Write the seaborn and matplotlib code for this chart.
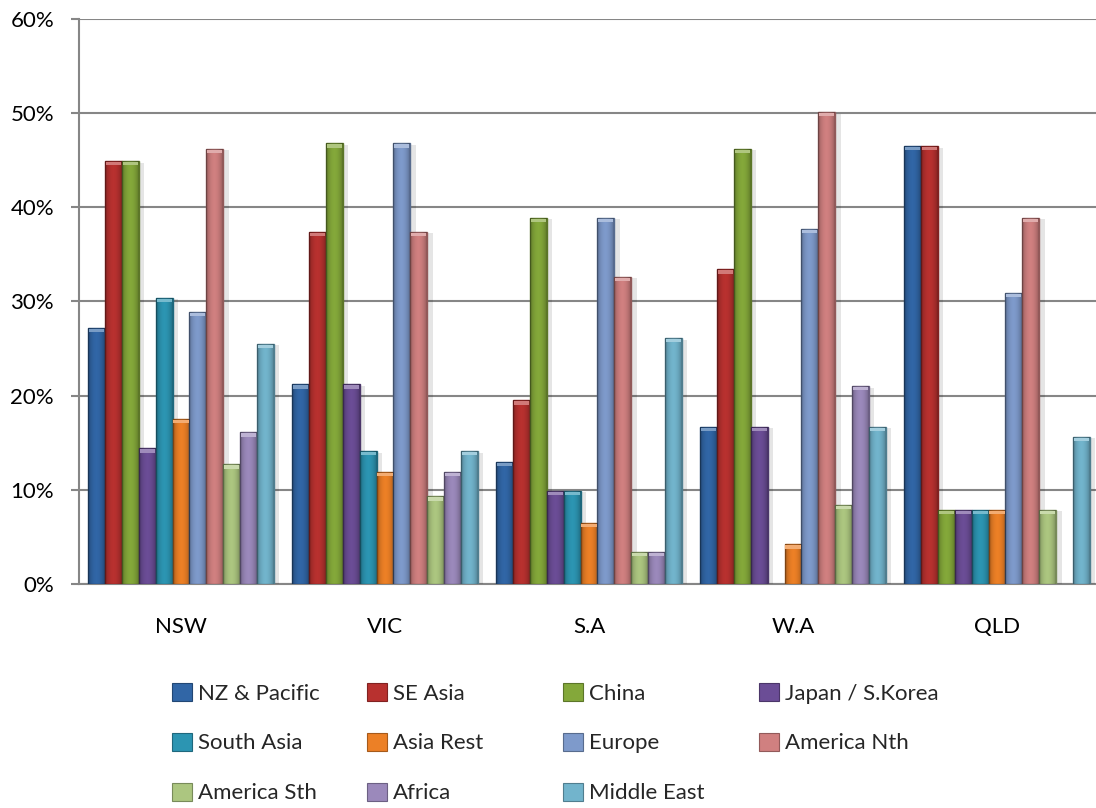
import matplotlib
matplotlib.use("Agg")
import matplotlib.pyplot as plt
import matplotlib.patheffects as pe
from matplotlib.patches import Patch
from matplotlib.ticker import FixedLocator, PercentFormatter
import numpy as np
import pandas as pd
import seaborn as sns

states = ["NSW", "VIC", "S.A", "W.A", "QLD"]
regions = ["NZ & Pacific", "SE Asia", "China", "Japan / S.Korea", "South Asia",
           "Asia Rest", "Europe", "America Nth", "America Sth", "Africa", "Middle East"]

# share per origin region (%), one list per region, ordered as states
nz_pacific = [27.2, 21.2, 13.0, 16.7, 46.5]
se_asia = [44.9, 37.4, 19.5, 33.4, 46.5]
china = [44.9, 46.8, 38.9, 46.2, 7.9]
japan_korea = [14.4, 21.2, 9.9, 16.7, 7.9]
south_asia = [30.4, 14.1, 9.9, 0.0, 7.9]
asia_rest = [17.5, 11.9, 6.5, 4.2, 7.9]
europe = [28.9, 46.8, 38.9, 37.7, 30.9]
america_nth = [46.2, 37.4, 32.6, 50.1, 38.9]
america_sth = [12.7, 9.3, 3.4, 8.4, 7.9]
africa = [16.1, 11.9, 3.4, 21.0, 0.0]
middle_east = [25.5, 14.1, 26.1, 16.7, 15.6]

series = [nz_pacific, se_asia, china, japan_korea, south_asia, asia_rest,
          europe, america_nth, america_sth, africa, middle_east]

colors = ["#3166A6", "#B8312F", "#84A83A", "#6B4D96", "#2C95B2", "#EC8026",
          "#7E9ACB", "#D08080", "#ACC680", "#9B89BB", "#72B4CC"]

rows = []
for reg, vals in zip(regions, series):
    for st, v in zip(states, vals):
        rows.append({"state": st, "region": reg, "value": v / 100.0})
df = pd.DataFrame(rows)

sns.set_theme(style="white")
plt.rcParams["font.family"] = ["Lato", "DejaVu Sans"]
FS = 16

W, H = 1096, 808
fig = plt.figure(figsize=(W / 100, H / 100), dpi=100)
ax = fig.add_axes([79 / W, 1 - 584 / H, 1020 / W, (584 - 19) / H])

sns.barplot(data=df, x="state", y="value", hue="region", order=states,
            hue_order=regions, palette=colors, width=0.91, gap=0,
            saturation=1, errorbar=None, ax=ax, legend=False, zorder=3)


def shade(c, f):
    r, g, b = matplotlib.colors.to_rgb(c)
    if f < 1:
        return (r * f, g * f, b * f)
    return (r + (1 - r) * (f - 1), g + (1 - g) * (f - 1), b + (1 - b) * (f - 1))


# rounded-column look: darker flanks, lighter middle
xs = np.linspace(-1, 1, 64)
profile = xs ** 2
overlay = np.zeros((1, xs.size, 4))
overlay[0, :, 3] = 0.28 * profile

shadow = [pe.SimplePatchShadow(offset=(4, -1), shadow_rgbFace=(0, 0, 0), alpha=0.10),
          pe.Normal()]
for patch in list(ax.patches):
    h = patch.get_height()
    if h <= 0:
        patch.set_visible(False)
        continue
    fc = patch.get_facecolor()
    patch.set_edgecolor(shade(fc, 0.7))
    patch.set_linewidth(1.0)
    patch.set_path_effects(shadow)
    x0 = patch.get_x()
    w = patch.get_width()
    im = ax.imshow(overlay, extent=(x0, x0 + w, 0, h), aspect="auto",
                   interpolation="bilinear", zorder=3.5)
    im.set_clip_path(patch)
    # light cap at the top of the column
    ax.bar(x0 + w / 2, 0.0035, width=w * 0.9, bottom=h - 0.0045,
           color=shade(fc, 1.35), linewidth=0, zorder=4)

grid_gray = "#868686"
ax.set_ylim(0, 0.6)
ax.set_xlim(-0.5, len(states) - 0.5)
ax.yaxis.set_major_locator(FixedLocator(np.arange(0, 0.61, 0.1)))
ax.yaxis.set_major_formatter(PercentFormatter(1.0, decimals=0))
ax.grid(axis="y", color=grid_gray, linewidth=1.5, zorder=0)
ax.set_axisbelow(True)

# category boundaries carry tick marks, labels sit at the centres
ax.set_xticks(np.arange(-0.5, len(states), 1.0))
ax.set_xticklabels([])
ax.set_xticks(np.arange(len(states)), minor=True)
ax.set_xticklabels(states, minor=True)
ax.tick_params(axis="x", which="major", length=5.5, width=1.5, color=grid_gray, direction="out")
ax.tick_params(axis="x", which="minor", length=0, pad=24, labelsize=FS, labelcolor="black")
ax.tick_params(axis="y", length=6, width=1.5, color=grid_gray, direction="out",
               pad=12, labelsize=FS, labelcolor="black", left=True)
ax.set_xlabel("")
ax.set_ylabel("")

for side in ["top", "right"]:
    ax.spines[side].set_visible(False)
for side in ["left", "bottom"]:
    ax.spines[side].set_color(grid_gray)
    ax.spines[side].set_linewidth(1.5)

# legend laid out row by row: four columns, three rows
handles = [Patch(facecolor=c, edgecolor=shade(c, 0.7), linewidth=0.8) for c in colors]
col_x = [172, 367, 563, 759]
for ci, x in enumerate(col_x):
    idx = list(range(ci, len(regions), 4))
    fig.legend([handles[i] for i in idx], [regions[i] for i in idx],
               loc="upper left", bbox_to_anchor=(x / W, 1 - 683 / H),
               frameon=False, fontsize=FS, handlelength=0.9, handleheight=0.85,
               handletextpad=0.25, labelspacing=1.32, borderpad=0, borderaxespad=0)

fig.savefig("out.png", dpi=100, facecolor="white")
